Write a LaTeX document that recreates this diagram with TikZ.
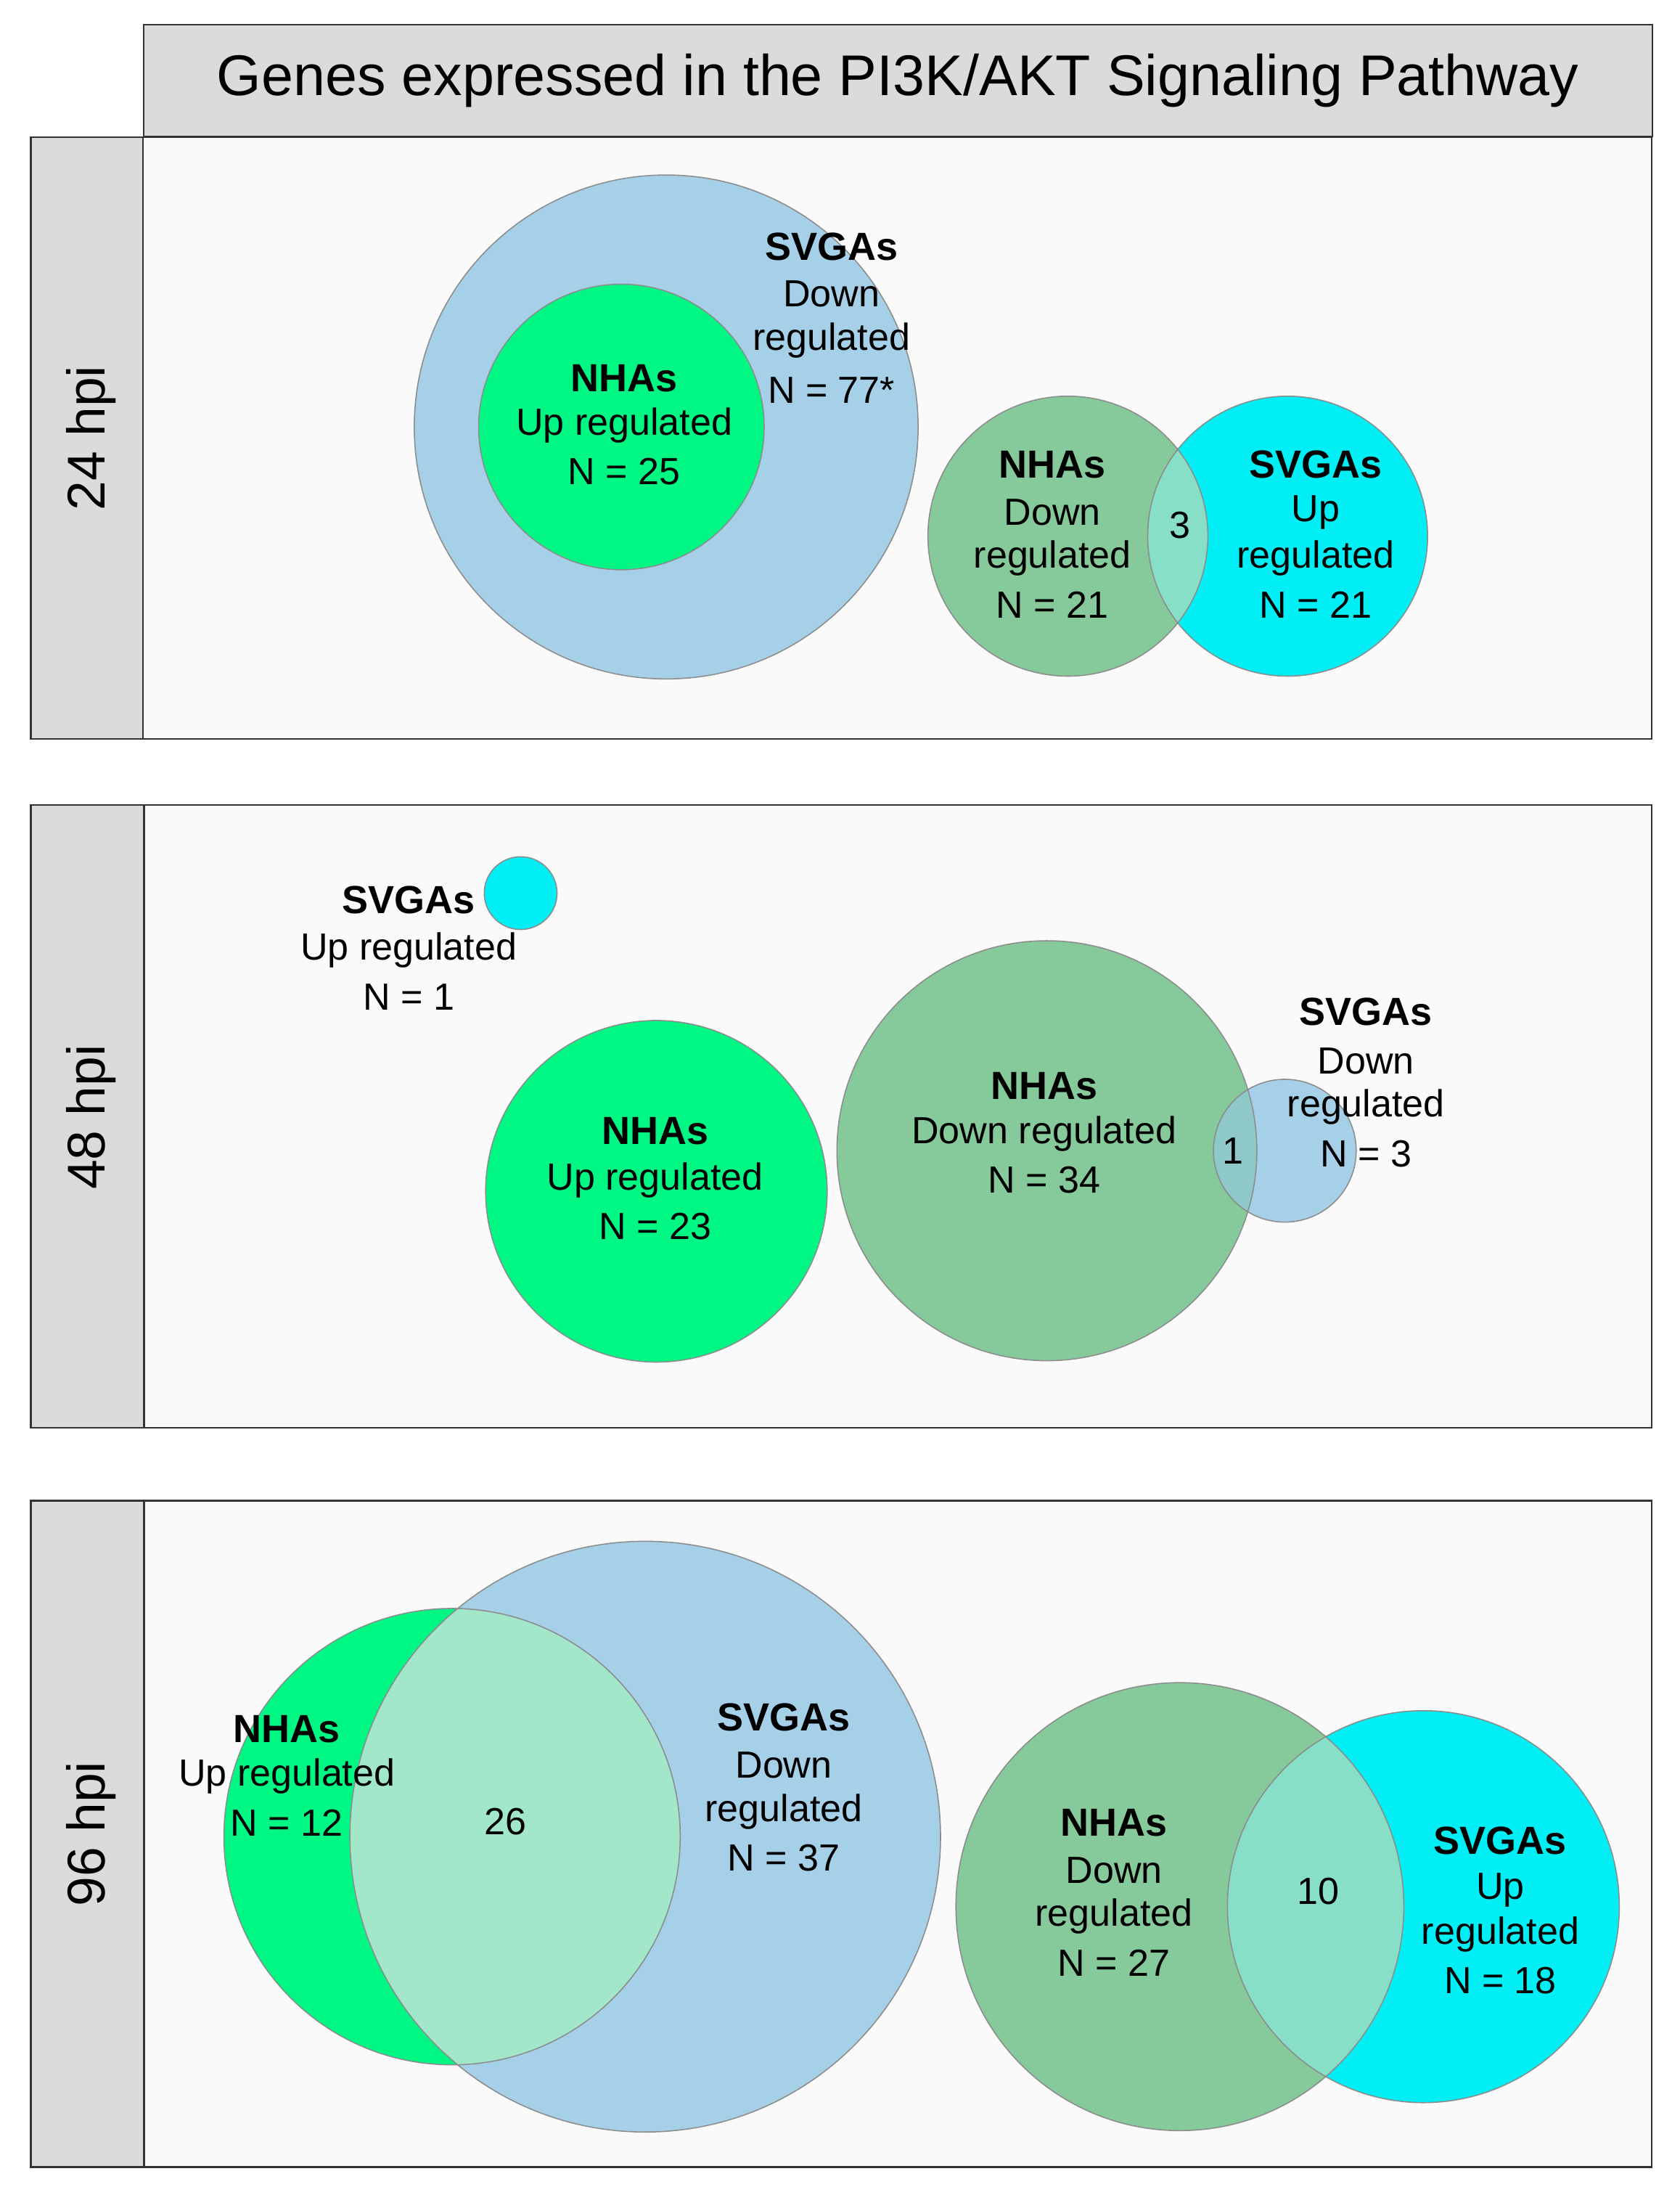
\documentclass[tikz,border=0pt]{standalone}
\usepackage{fontspec}
\setmainfont{Liberation Sans}
\begin{document}
\begin{tikzpicture}[x=1pt,y=-1pt,
  lbl/.style={font=\fontsize{27}{30}\selectfont,inner sep=0pt},
  blbl/.style={font=\fontsize{28}{30}\selectfont\bfseries,inner sep=0pt},
  hpi/.style={font=\fontsize{38}{42}\selectfont,rotate=90,inner sep=0pt},
  panel/.style={draw=black!80,line width=1.2pt,fill=black!2},
  strip/.style={draw=black!80,line width=1.2pt,fill=black!14},
  ring/.style={draw=black!45,line width=0.8pt}]
\definecolor{cblue}{HTML}{A6CFE8}
\definecolor{cgreen}{HTML}{00F784}
\definecolor{cdark}{HTML}{86C99A}
\definecolor{ccyan}{HTML}{00EEF4}
\definecolor{ovA}{HTML}{88DFC8}
\definecolor{ovB}{HTML}{A2E7CA}
\definecolor{ovC}{HTML}{8FC8C8}
\useasboundingbox (0,0) rectangle (1200,1568);
\fill[white] (0,0) rectangle (1200,1568);
% title
\node[strip,minimum width=1078pt,minimum height=80pt,anchor=north west,font=\fontsize{41}{44}\selectfont] (title) at (102,17) {Genes expressed in the PI3K/AKT Signaling Pathway};
% panels
\draw[panel] (102,98) rectangle (1180,528); \draw[strip] (22,98) rectangle (102,528);
\draw[panel] (103,575) rectangle (1180,1020); \draw[strip] (22,575) rectangle (103,1020);
\draw[panel] (103,1072) rectangle (1180,1548); \draw[strip] (22,1072) rectangle (103,1548);
\node[hpi] (h1) at (65,313) {24 hpi};
\node[hpi] (h2) at (65,798) {48 hpi};
\node[hpi] (h3) at (65,1310) {96 hpi};
% panel 1
\fill[cblue,ring] (476,305) circle (180pt);
\fill[cgreen,ring] (444,305) circle (102pt);
\fill[cdark] (763,383) circle (100pt);
\fill[ccyan] (920,383) circle (100pt);
\begin{scope}\clip (763,383) circle (100pt); \fill[ovA] (920,383) circle (100pt);\end{scope}
\draw[ring] (763,383) circle (100pt) (920,383) circle (100pt);
\node[blbl] (a1) at (594,176) {SVGAs};
\node[lbl] (a2) at (594,210) {Down};
\node[lbl] (a3) at (594,243) {regulated};
\node[lbl] (a4) at (594,279) {N = 77*};
\node[blbl] (b1) at (446,270) {NHAs};
\node[lbl] (b2) at (446,304) {Up regulated};
\node[lbl] (b3) at (446,337) {N = 25};
\node[blbl] (c1) at (752,332) {NHAs};
\node[lbl] (c2) at (752,366) {Down};
\node[lbl] (c3) at (752,399) {regulated};
\node[lbl] (c4) at (752,432) {N = 21};
\node[lbl] (c5) at (843,375) {3};
\node[blbl] (d1) at (940,332) {SVGAs};
\node[lbl] (d2) at (940,366) {Up};
\node[lbl] (d3) at (940,399) {regulated};
\node[lbl] (d4) at (940,432) {N = 21};
% panel 2
\fill[ccyan,ring] (372,638) circle (26pt);
\fill[cgreen,ring] (469,851) circle (122pt);
\fill[cdark] (748,822) circle (150pt);
\fill[cblue] (918,822) circle (51pt);
\begin{scope}\clip (748,822) circle (150pt); \fill[ovC] (918,822) circle (51pt);\end{scope}
\draw[ring] (748,822) circle (150pt) (918,822) circle (51pt);
\node[blbl] (e1) at (292,643) {SVGAs};
\node[lbl] (e2) at (292,679) {Up regulated};
\node[lbl] (e3) at (292,712) {N = 1};
\node[blbl] (f1) at (468,808) {NHAs};
\node[lbl] (f2) at (468,843) {Up regulated};
\node[lbl] (f3) at (468,876) {N = 23};
\node[blbl] (g1) at (746,776) {NHAs};
\node[lbl] (g2) at (746,810) {Down regulated};
\node[lbl] (g3) at (746,843) {N = 34};
\node[lbl] (g4) at (881,822) {1};
\node[blbl] (k1) at (976,723) {SVGAs};
\node[lbl] (k2) at (976,758) {Down};
\node[lbl] (k3) at (976,791) {regulated};
\node[lbl] (k4) at (976,824) {N = 3};
% panel 3
\fill[cgreen] (323,1312) circle (163pt);
\fill[cblue] (461,1312) circle (211pt);
\begin{scope}\clip (323,1312) circle (163pt); \fill[ovB] (461,1312) circle (211pt);\end{scope}
\draw[ring] (323,1312) circle (163pt) (461,1312) circle (211pt);
\fill[cdark] (843,1362) circle (160pt);
\fill[ccyan] (1017,1362) circle (140pt);
\begin{scope}\clip (843,1362) circle (160pt); \fill[ovA] (1017,1362) circle (140pt);\end{scope}
\draw[ring] (843,1362) circle (160pt) (1017,1362) circle (140pt);
\node[blbl] (m1) at (205,1235) {NHAs};
\node[lbl] (m2) at (205,1269) {Up regulated};
\node[lbl] (m3) at (205,1302) {N = 12};
\node[lbl] (m4) at (361,1301) {26};
\node[blbl] (n1) at (560,1227) {SVGAs};
\node[lbl] (n2) at (560,1261) {Down};
\node[lbl] (n3) at (560,1294) {regulated};
\node[lbl] (n4) at (560,1327) {N = 37};
\node[blbl] (p1) at (796,1302) {NHAs};
\node[lbl] (p2) at (796,1336) {Down};
\node[lbl] (p3) at (796,1369) {regulated};
\node[lbl] (p4) at (796,1402) {N = 27};
\node[lbl] (p5) at (942,1351) {10};
\node[blbl] (q1) at (1072,1315) {SVGAs};
\node[lbl] (q2) at (1072,1350) {Up};
\node[lbl] (q3) at (1072,1382) {regulated};
\node[lbl] (q4) at (1072,1415) {N = 18};
\end{tikzpicture}
\end{document}
